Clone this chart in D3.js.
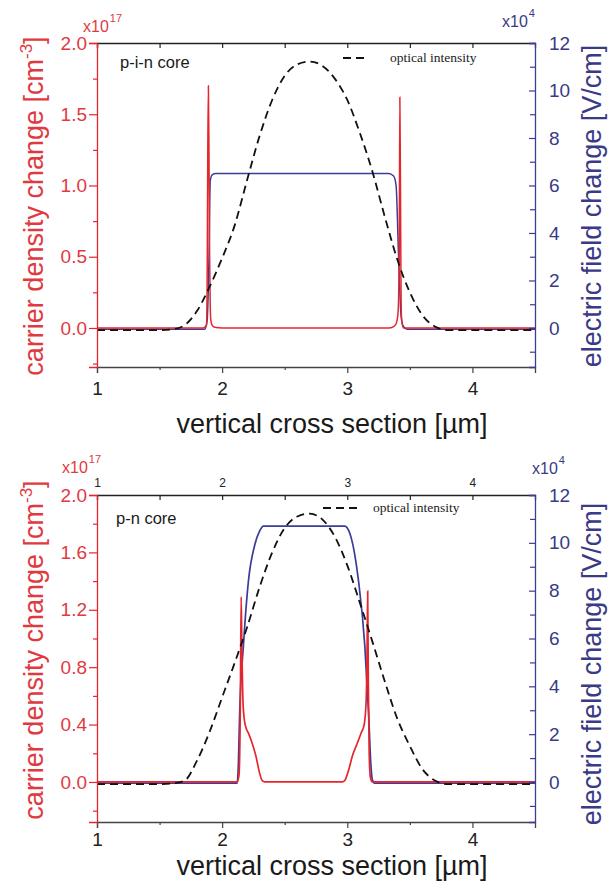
<!DOCTYPE html>
<html><head><meta charset="utf-8">
<script src="https://cdn.jsdelivr.net/npm/d3@7"></script>
<style>
html,body{margin:0;padding:0;background:#fff;}
svg{display:block;font-family:"Liberation Sans",Arial,sans-serif;}
</style></head>
<body><svg id="chart" width="608" height="881"></svg>
<script>
// ---------------- DATA ----------------
const xTickValues = [1, 2, 3, 4];
const xMinorTicks = [1.5, 2.5, 3.5];
const rightTickValues = [0, 2, 4, 6, 8, 10, 12];
const rightMinorTicks = [-1, 1, 3, 5, 7, 9, 11];
const pinLeftTicks = [0.0, 0.5, 1.0, 1.5, 2.0];
const pinLeftMinor = [-0.25, 0.25, 0.75, 1.25, 1.75];
const pnLeftTicks = [0.0, 0.4, 0.8, 1.2, 1.6, 2.0];
const pnLeftMinor = [-0.2, 0.2, 0.6, 1.0, 1.4, 1.8];

// optical intensity (left units, x10^17 scale) — p-i-n panel
const pinOpticalX = [1.0,1.1,1.2,1.3,1.4,1.5,1.6,1.7,1.8,1.9,2.0,2.1,2.2,2.3,2.4,2.5,2.6,2.7,2.8,2.9,3.0,3.1,3.2,3.3,3.4,3.5,3.6,3.7,3.8,3.9,4.0,4.1,4.2,4.3,4.4,4.5];
const pinOpticalY = [-0.015,-0.015,-0.015,-0.015,-0.015,-0.015,-0.01,0.02,0.12,0.29,0.49,0.72,1.04,1.35,1.60,1.77,1.85,1.87,1.84,1.75,1.60,1.37,1.10,0.78,0.48,0.25,0.09,0.01,-0.015,-0.015,-0.015,-0.015,-0.015,-0.015,-0.015,-0.015];

// carrier density change (x10^17 cm^-3) — p-i-n panel
const pinCarrierX = [1.0,1.85,1.875,1.88,1.885,1.89,1.895,1.9,1.905,1.91,1.92,1.94,2.0,3.33,3.37,3.39,3.405,3.415,3.42,3.425,3.43,3.435,3.45,4.5];
const pinCarrierY = [0,0,0.02,0.3,1.2,1.70,1.2,0.5,0.15,0.05,0.02,0.005,0,0,0.01,0.03,0.1,0.5,1.62,1.0,0.2,0.05,0,0];

// electric field change (x10^4 V/cm) — p-i-n panel
const pinFieldX = [1.0,1.86,1.88,1.895,1.905,1.92,1.95,3.33,3.37,3.39,3.41,3.43,3.45,3.48,4.5];
const pinFieldY = [-0.05,-0.05,0.3,3.0,6.2,6.45,6.5,6.5,6.4,6.0,3.0,0.5,0.05,-0.05,-0.05];

// optical intensity — p-n panel
const pnOpticalX = [1.0,1.1,1.2,1.3,1.4,1.5,1.6,1.7,1.8,1.9,2.0,2.1,2.2,2.3,2.4,2.5,2.6,2.7,2.8,2.9,3.0,3.1,3.2,3.3,3.4,3.5,3.6,3.7,3.8,3.9,4.0,4.1,4.2,4.3,4.4,4.5];
const pnOpticalY = [-0.015,-0.015,-0.015,-0.015,-0.015,-0.015,-0.01,0.01,0.15,0.35,0.59,0.83,1.08,1.36,1.60,1.77,1.85,1.87,1.83,1.71,1.51,1.25,0.98,0.70,0.44,0.25,0.09,0.01,-0.015,-0.015,-0.015,-0.015,-0.015,-0.015,-0.015,-0.015];

// carrier density change — p-n panel
const pnCarrierX = [1.0,2.12,2.135,2.145,2.152,2.158,2.165,2.175,2.19,2.21,2.24,2.27,2.30,2.32,2.34,2.96,2.98,3.01,3.04,3.08,3.11,3.135,3.15,3.158,3.163,3.168,3.175,3.185,3.2,4.5];
const pnCarrierY = [0,0,0.05,0.5,1.29,0.9,0.6,0.45,0.38,0.34,0.27,0.18,0.06,0.01,0,0,0.01,0.08,0.18,0.27,0.34,0.40,0.55,0.9,1.33,0.7,0.2,0.03,0,0];

// electric field change — p-n panel
const pnFieldX = [1.0,2.12,2.13,2.14,2.17,2.21,2.26,2.30,2.33,2.98,3.02,3.06,3.09,3.14,3.17,3.19,3.20,3.22,4.5];
const pnFieldY = [-0.05,-0.05,0.8,2.9,5.7,8.4,9.9,10.5,10.7,10.7,10.4,9.5,8.4,5.7,2.9,0.6,0.1,-0.05,-0.05];

// ---------------- STYLE ----------------
const RED = "#e5262c", RED_TXT = "#e03a3f";
const NAVY = "#3c3c98", NAVY_TXT = "#3a3a86";
const FRAME = "#444";

const svg = d3.select("#chart");
const zip = (xs, ys) => xs.map((x, i) => [x, ys[i]]);

function panel(cfg) {
  const g = svg.append("g");
  const x = d3.scaleLinear().domain([1, 4.5]).range([97, 535]);
  const yL = d3.scaleLinear().domain(cfg.leftDomain).range([cfg.bottom, cfg.top]);
  const yR = d3.scaleLinear().domain(cfg.rightDomain).range([cfg.bottom, cfg.top]);

  const cid = "clip" + cfg.id;
  svg.append("clipPath").attr("id", cid).append("rect")
    .attr("x", 97).attr("y", cfg.top).attr("width", 438).attr("height", cfg.bottom - cfg.top);

  const plot = g.append("g").attr("clip-path", `url(#${cid})`);
  const lineL = d3.line().x(d => x(d[0])).y(d => yL(d[1])).curve(d3.curveMonotoneX);
  const lineR = d3.line().x(d => x(d[0])).y(d => yR(d[1])).curve(d3.curveMonotoneX);

  plot.append("path").attr("d", lineR(zip(cfg.fieldX, cfg.fieldY)))
    .attr("fill", "none").attr("stroke", NAVY).attr("stroke-width", cfg.lw);
  plot.append("path").attr("d", lineL(zip(cfg.carrierX, cfg.carrierY)))
    .attr("fill", "none").attr("stroke", RED).attr("stroke-width", cfg.lw);
  plot.append("path").attr("d", lineL(zip(cfg.optX, cfg.optY)))
    .attr("fill", "none").attr("stroke", "#111").attr("stroke-width", 1.8)
    .attr("stroke-dasharray", "8,5");

  // bottom axis
  const bx = g.append("g").attr("transform", `translate(0,${cfg.bottom})`)
    .call(d3.axisBottom(x).tickValues(xTickValues).tickSize(6).tickFormat(d3.format("d")));
  bx.select(".domain").attr("stroke", FRAME).attr("stroke-width", 1.3);
  bx.selectAll(".tick line").attr("stroke", FRAME).attr("stroke-width", 1.2);
  bx.selectAll("text").attr("font-size", 19).attr("fill", "#222").attr("dy", null).attr("y", cfg.xLabOff);
  g.append("g").attr("transform", `translate(0,${cfg.bottom})`)
    .call(d3.axisBottom(x).tickValues(xMinorTicks).tickSize(3).tickFormat(""))
    .call(s => { s.select(".domain").remove(); s.selectAll("line").attr("stroke", FRAME).attr("stroke-width", 1.2); });

  // top axis
  const tx = g.append("g").attr("transform", `translate(0,${cfg.top})`)
    .call(d3.axisTop(x).tickValues(xTickValues).tickSize(-5).tickFormat(cfg.topLabels ? d3.format("d") : ""));
  tx.select(".domain").attr("stroke", "#222").attr("stroke-width", 1.3);
  tx.selectAll(".tick line").attr("stroke", "#222").attr("stroke-width", 1.2);
  tx.selectAll("text").attr("font-size", 12).attr("fill", "#222").attr("y", -8);
  g.append("g").attr("transform", `translate(0,${cfg.top})`)
    .call(d3.axisTop(x).tickValues(xMinorTicks).tickSize(-5).tickFormat(""))
    .call(s => { s.select(".domain").remove(); s.selectAll("line").attr("stroke", "#222").attr("stroke-width", 1.2); });

  // left axis
  const la = g.append("g").attr("transform", "translate(97,0)")
    .call(d3.axisLeft(yL).tickValues(cfg.leftTicks).tickSize(8).tickPadding(2).tickFormat(d3.format(".1f")));
  la.select(".domain").attr("stroke", RED).attr("stroke-width", 1.3);
  la.selectAll(".tick line").attr("stroke", RED).attr("stroke-width", 1.2);
  la.selectAll("text").attr("font-size", 19).attr("fill", RED_TXT);
  g.append("g").attr("transform", "translate(97,0)")
    .call(d3.axisLeft(yL).tickValues(cfg.leftMinor).tickSize(4).tickFormat(""))
    .call(s => { s.select(".domain").remove(); s.selectAll("line").attr("stroke", RED).attr("stroke-width", 1.2); });

  // right axis
  const ra = g.append("g").attr("transform", "translate(535,0)")
    .call(d3.axisRight(yR).tickValues(rightTickValues).tickSize(-6).tickPadding(14).tickFormat(d3.format("d")));
  ra.select(".domain").attr("stroke", NAVY).attr("stroke-width", 1.3);
  ra.selectAll(".tick line").attr("stroke", NAVY).attr("stroke-width", 1.2);
  ra.selectAll("text").attr("font-size", 19).attr("fill", NAVY_TXT);
  g.append("g").attr("transform", "translate(535,0)")
    .call(d3.axisRight(yR).tickValues(rightMinorTicks).tickSize(-5).tickFormat(""))
    .call(s => { s.select(".domain").remove(); s.selectAll("line").attr("stroke", NAVY).attr("stroke-width", 1.2); });

  // multipliers
  const m1 = g.append("text").attr("x", cfg.m17x).attr("y", cfg.m17y).attr("fill", RED_TXT).attr("font-size", 16);
  m1.append("tspan").text("x10");
  m1.append("tspan").attr("font-size", 11).attr("dy", -10).attr("dx", 1).text("17");
  const m2 = g.append("text").attr("x", cfg.m4x).attr("y", cfg.m4y).attr("fill", NAVY_TXT).attr("font-size", 16);
  m2.append("tspan").text("x10");
  m2.append("tspan").attr("font-size", 11).attr("dy", -10).attr("dx", 1).text("4");

  // titles
  const lt = g.append("text").attr("transform", `translate(43,${cfg.ltc}) rotate(-90)`)
    .attr("text-anchor", "middle").attr("font-size", 27).attr("fill", RED_TXT);
  lt.append("tspan").text("carrier density change [cm");
  lt.append("tspan").attr("font-size", 17).attr("dy", -11).text("-3");
  lt.append("tspan").attr("dy", 11).text("]");

  g.append("text").attr("transform", `translate(601,${cfg.rtc}) rotate(-90)`)
    .attr("text-anchor", "middle").attr("font-size", 27).attr("fill", NAVY_TXT)
    .text("electric field change [V/cm]");

  g.append("text").attr("x", 332).attr("y", cfg.xtY).attr("text-anchor", "middle")
    .attr("font-size", 27).attr("fill", "#1a1a1a").text("vertical cross section [\u00b5m]");

  // panel label
  g.append("text").attr("x", cfg.labX).attr("y", cfg.labY).attr("font-size", 16.5).attr("fill", "#1a1a1a").text(cfg.label);

  // legend
  g.append("line").attr("x1", cfg.legX1).attr("x2", cfg.legX2).attr("y1", cfg.legY).attr("y2", cfg.legY)
    .attr("stroke", "#111").attr("stroke-width", 1.8).attr("stroke-dasharray", "8,5");
  g.append("text").attr("x", cfg.legTx).attr("y", cfg.legY + 4)
    .attr("font-family", "'Liberation Serif','Times New Roman',serif").attr("font-size", 13.5)
    .attr("fill", "#222").text("optical intensity");
}

panel({
  id: "a", top: 43, bottom: 367, lw: 1.5,
  leftDomain: [-0.274, 2], rightDomain: [-1.644, 12],
  leftTicks: pinLeftTicks, leftMinor: pinLeftMinor,
  carrierX: pinCarrierX, carrierY: pinCarrierY, fieldX: pinFieldX, fieldY: pinFieldY,
  optX: pinOpticalX, optY: pinOpticalY, topLabels: false, xLabOff: 28,
  m17x: 83, m17y: 32, m4x: 502, m4y: 27,
  ltc: 206, rtc: 206, xtY: 433,
  label: "p-i-n core", labX: 120, labY: 68,
  legX1: 343, legX2: 367, legY: 58, legTx: 390
});

panel({
  id: "b", top: 495, bottom: 822, lw: 1.7,
  leftDomain: [-0.279, 2], rightDomain: [-1.672, 12],
  leftTicks: pnLeftTicks, leftMinor: pnLeftMinor,
  carrierX: pnCarrierX, carrierY: pnCarrierY, fieldX: pnFieldX, fieldY: pnFieldY,
  optX: pnOpticalX, optY: pnOpticalY, topLabels: true, xLabOff: 24,
  m17x: 62, m17y: 473, m4x: 532, m4y: 474,
  ltc: 650, rtc: 664, xtY: 875,
  label: "p-n core", labX: 116, labY: 524,
  legX1: 323, legX2: 360, legY: 508, legTx: 373
});
</script>
</body></html>
